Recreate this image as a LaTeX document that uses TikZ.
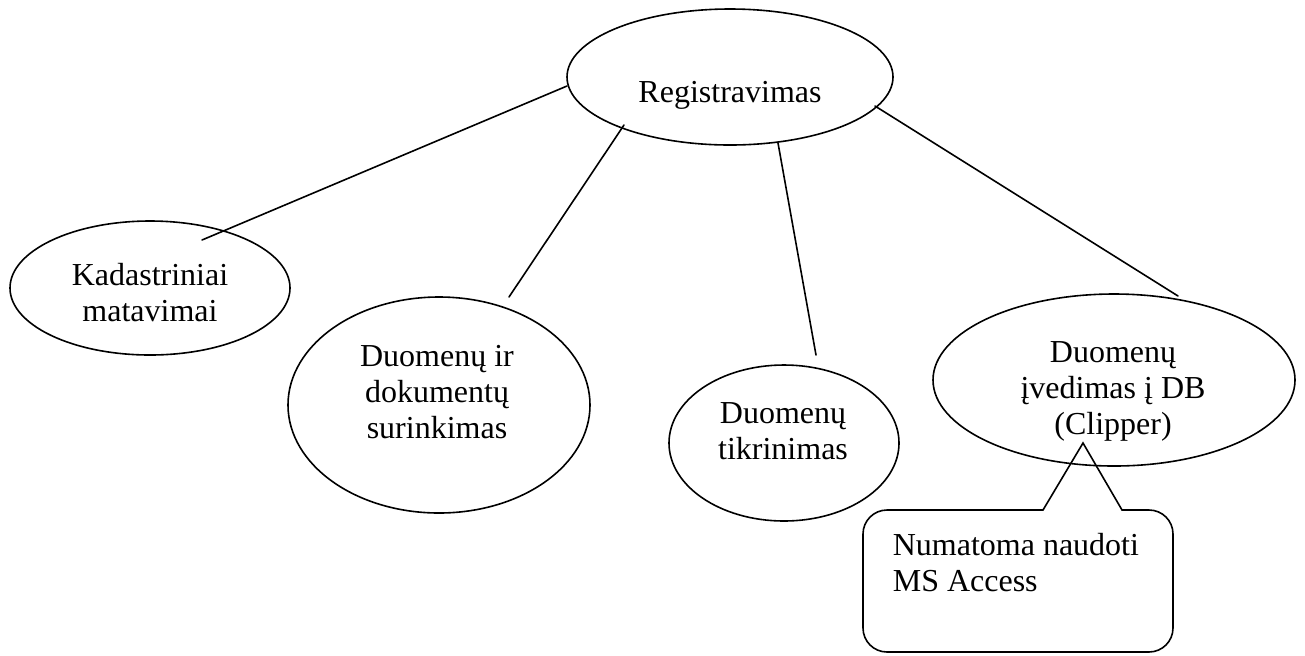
\documentclass[tikz,border=0pt]{standalone}
\usepackage{fontspec}
\setmainfont{Liberation Serif}
\usetikzlibrary{shapes.geometric}
% centred and left-aligned stacks whose baseline is the first line
\newcommand\stackc[1]{\begin{tabular}[t]{@{}c@{}}#1\end{tabular}}
\newcommand\stackl[1]{\begin{tabular}[t]{@{}l@{}}#1\end{tabular}}
\begin{document}
\begin{tikzpicture}[x=0.5pt,y=-0.5pt,
  line width=0.8pt,
  oval/.style={draw, ellipse, inner sep=0pt},
  caption/.style={inner sep=0pt, anchor=base, font=\fontsize{16}{18.2}\selectfont},
  link/.style={draw, line cap=round},
  bubble/.style={draw, line cap=round, line join=miter},
]
\useasboundingbox (0,0) rectangle (1305,655);

% ellipses
\node[oval, minimum width=163pt, minimum height=68pt]  (reg)  at (730,77)  {};
\node[oval, minimum width=140pt, minimum height=67pt]  (kad)  at (150,288) {};
\node[oval, minimum width=151pt, minimum height=108pt] (sur)  at (439,405) {};
\node[oval, minimum width=115pt, minimum height=78pt]  (tik)  at (784,443) {};
\node[oval, minimum width=181pt, minimum height=86pt]  (ived) at (1114,380) {};

% labels
\node[caption] (reg-t)  at (730,102) {Registravimas};
\node[caption] (kad-t)  at (150,285) {\stackc{Kadastriniai\\matavimai}};
\node[caption] (sur-t)  at (437,366) {\stackc{Duomenų ir\\dokumentų\\surinkimas}};
\node[caption] (tik-t)  at (783,423) {\stackc{Duomenų\\tikrinimas}};
\node[caption] (ived-t) at (1113,362) {\stackc{Duomenų\\įvedimas į DB\\(Clipper)}};

% connector ends
\coordinate (r1) at (567,86);  \coordinate (k1) at (202,240);
\coordinate (r2) at (624,125); \coordinate (s1) at (509,297);
\coordinate (r3) at (778,143); \coordinate (t1) at (816,355);
\coordinate (r4) at (875,106); \coordinate (i1) at (1178,296);

\draw[link] (r1) -- (k1);
\draw[link] (r2) -- (s1);
\draw[link] (r3) -- (t1);
\draw[link] (r4) -- (i1);

% callout with its pointer
\coordinate (pl)  at (1043,510);
\coordinate (tip) at (1083,443);
\coordinate (pr)  at (1122,510);
\draw[bubble] (pl) -- (tip) -- (pr);
\draw[bubble, rounded corners=12pt] (pr) -- (1173,510) -- (1173,652) -- (863,652) -- (863,510) -- (pl);
\node[caption, anchor=base west] (note) at (892,555) {\stackl{Numatoma naudoti\\MS Access}};
\end{tikzpicture}
\end{document}
